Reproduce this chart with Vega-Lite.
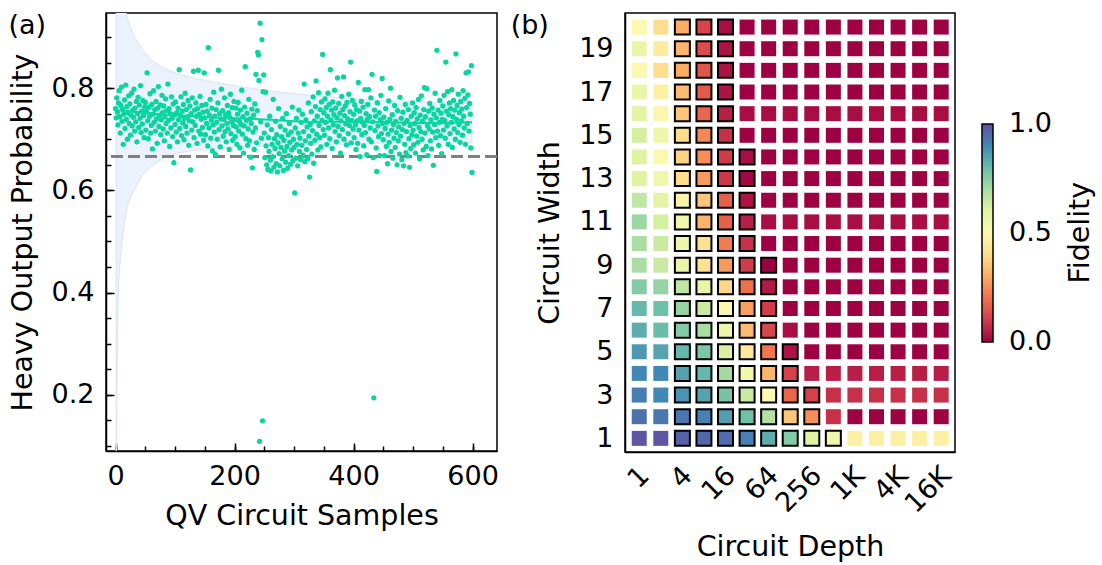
{
"$schema":"https://vega.github.io/schema/vega-lite/v6.json",
"padding":{"left":7,"top":11,"right":5,"bottom":5},
"config":{"font":"DejaVu Sans","view":{"stroke":"black","strokeWidth":1.5},
"axis":{"labelFontSize":27,"titleFontSize":28.5,"titleFontWeight":"normal","labelColor":"black","titleColor":"black","domainColor":"black","domainWidth":1.5,"tickColor":"black","tickWidth":1.5,"grid":false,"labelFlush":false,"labelOverlap":false}},
"datasets":{
"pts":[
{"s":0,"p":0.760},{"s":1,"p":0.742},{"s":2,"p":0.781},{"s":3,"p":0.753},{"s":4,"p":0.728},{"s":5,"p":0.771},{"s":6,"p":0.795},{"s":7,"p":0.744},{"s":8,"p":0.712},{"s":9,"p":0.766},
{"s":10,"p":0.802},{"s":11,"p":0.735},{"s":12,"p":0.758},{"s":13,"p":0.690},{"s":14,"p":0.749},{"s":15,"p":0.777},{"s":16,"p":0.721},{"s":17,"p":0.806},{"s":18,"p":0.739},{"s":19,"p":0.764},
{"s":20,"p":0.700},{"s":21,"p":0.752},{"s":22,"p":0.785},{"s":23,"p":0.731},{"s":24,"p":0.769},{"s":25,"p":0.708},{"s":26,"p":0.747},{"s":27,"p":0.790},{"s":28,"p":0.726},{"s":29,"p":0.757},
{"s":30,"p":0.743},{"s":31,"p":0.798},{"s":32,"p":0.716},{"s":33,"p":0.761},{"s":34,"p":0.734},{"s":35,"p":0.774},{"s":36,"p":0.695},{"s":37,"p":0.750},{"s":38,"p":0.782},{"s":39,"p":0.723},
{"s":40,"p":0.767},{"s":41,"p":0.741},{"s":42,"p":0.805},{"s":43,"p":0.713},{"s":44,"p":0.755},{"s":45,"p":0.730},{"s":46,"p":0.776},{"s":47,"p":0.746},{"s":48,"p":0.703},{"s":49,"p":0.763},
{"s":50,"p":0.772},{"s":51,"p":0.718},{"s":52,"p":0.754},{"s":53,"p":0.830},{"s":54,"p":0.736},{"s":55,"p":0.701},{"s":56,"p":0.763},{"s":57,"p":0.745},{"s":58,"p":0.789},{"s":59,"p":0.712},
{"s":60,"p":0.727},{"s":61,"p":0.768},{"s":62,"p":0.681},{"s":63,"p":0.749},{"s":64,"p":0.795},{"s":65,"p":0.733},{"s":66,"p":0.758},{"s":67,"p":0.716},{"s":68,"p":0.774},{"s":69,"p":0.740},
{"s":70,"p":0.692},{"s":71,"p":0.761},{"s":72,"p":0.803},{"s":73,"p":0.725},{"s":74,"p":0.747},{"s":75,"p":0.767},{"s":76,"p":0.709},{"s":77,"p":0.738},{"s":78,"p":0.786},{"s":79,"p":0.752},
{"s":80,"p":0.720},{"s":81,"p":0.765},{"s":82,"p":0.697},{"s":83,"p":0.744},{"s":84,"p":0.779},{"s":85,"p":0.731},{"s":86,"p":0.756},{"s":87,"p":0.712},{"s":88,"p":0.808},{"s":89,"p":0.737},
{"s":90,"p":0.760},{"s":91,"p":0.686},{"s":92,"p":0.750},{"s":93,"p":0.722},{"s":94,"p":0.783},{"s":95,"p":0.741},{"s":96,"p":0.705},{"s":97,"p":0.769},{"s":98,"p":0.654},{"s":99,"p":0.748},
{"s":100,"p":0.729},{"s":101,"p":0.773},{"s":102,"p":0.714},{"s":103,"p":0.752},{"s":104,"p":0.695},{"s":105,"p":0.761},{"s":106,"p":0.738},{"s":107,"p":0.836},{"s":108,"p":0.721},{"s":109,"p":0.746},
{"s":110,"p":0.783},{"s":111,"p":0.707},{"s":112,"p":0.755},{"s":113,"p":0.732},{"s":114,"p":0.768},{"s":115,"p":0.699},{"s":116,"p":0.741},{"s":117,"p":0.790},{"s":118,"p":0.725},{"s":119,"p":0.758},
{"s":120,"p":0.712},{"s":121,"p":0.744},{"s":122,"p":0.776},{"s":123,"p":0.688},{"s":124,"p":0.736},{"s":125,"p":0.765},{"s":126,"p":0.640},{"s":127,"p":0.750},{"s":128,"p":0.718},{"s":129,"p":0.781},
{"s":130,"p":0.734},{"s":131,"p":0.833},{"s":132,"p":0.703},{"s":133,"p":0.757},{"s":134,"p":0.727},{"s":135,"p":0.771},{"s":136,"p":0.745},{"s":137,"p":0.692},{"s":138,"p":0.760},{"s":139,"p":0.835},
{"s":140,"p":0.716},{"s":141,"p":0.749},{"s":142,"p":0.784},{"s":143,"p":0.710},{"s":144,"p":0.739},{"s":145,"p":0.766},{"s":146,"p":0.723},{"s":147,"p":0.753},{"s":148,"p":0.698},{"s":149,"p":0.830},
{"s":150,"p":0.742},{"s":151,"p":0.709},{"s":152,"p":0.768},{"s":153,"p":0.731},{"s":154,"p":0.755},{"s":155,"p":0.687},{"s":156,"p":0.879},{"s":157,"p":0.722},{"s":158,"p":0.747},{"s":159,"p":0.778},
{"s":160,"p":0.702},{"s":161,"p":0.737},{"s":162,"p":0.761},{"s":163,"p":0.677},{"s":164,"p":0.728},{"s":165,"p":0.792},{"s":166,"p":0.714},{"s":167,"p":0.745},{"s":168,"p":0.670},{"s":169,"p":0.758},
{"s":170,"p":0.733},{"s":171,"p":0.700},{"s":172,"p":0.771},{"s":173,"p":0.835},{"s":174,"p":0.719},{"s":175,"p":0.750},{"s":176,"p":0.685},{"s":177,"p":0.740},{"s":178,"p":0.798},{"s":179,"p":0.726},
{"s":180,"p":0.756},{"s":181,"p":0.706},{"s":182,"p":0.739},{"s":183,"p":0.781},{"s":184,"p":0.715},{"s":185,"p":0.748},{"s":186,"p":0.695},{"s":187,"p":0.731},{"s":188,"p":0.766},{"s":189,"p":0.720},
{"s":190,"p":0.752},{"s":191,"p":0.680},{"s":192,"p":0.743},{"s":193,"p":0.788},{"s":194,"p":0.711},{"s":195,"p":0.734},{"s":196,"p":0.762},{"s":197,"p":0.698},{"s":198,"p":0.727},{"s":199,"p":0.774},
{"s":200,"p":0.738},{"s":201,"p":0.705},{"s":202,"p":0.761},{"s":203,"p":0.724},{"s":204,"p":0.690},{"s":205,"p":0.749},{"s":206,"p":0.772},{"s":207,"p":0.716},{"s":208,"p":0.735},{"s":209,"p":0.683},
{"s":210,"p":0.757},{"s":211,"p":0.729},{"s":212,"p":0.796},{"s":213,"p":0.710},{"s":214,"p":0.744},{"s":215,"p":0.673},{"s":216,"p":0.726},{"s":217,"p":0.763},{"s":218,"p":0.842},{"s":219,"p":0.701},
{"s":220,"p":0.737},{"s":221,"p":0.751},{"s":222,"p":0.688},{"s":223,"p":0.720},{"s":224,"p":0.778},{"s":225,"p":0.697},{"s":226,"p":0.740},{"s":227,"p":0.665},{"s":228,"p":0.731},{"s":229,"p":0.759},
{"s":230,"p":0.644},{"s":231,"p":0.714},{"s":232,"p":0.747},{"s":233,"p":0.680},{"s":234,"p":0.769},{"s":235,"p":0.722},{"s":236,"p":0.827},{"s":237,"p":0.693},{"s":238,"p":0.756},{"s":239,"p":0.870},
{"s":240,"p":0.865},{"s":241,"p":0.815},{"s":242,"p":0.109},{"s":243,"p":0.927},{"s":244,"p":0.734},{"s":245,"p":0.702},{"s":246,"p":0.895},{"s":247,"p":0.149},{"s":248,"p":0.793},{"s":249,"p":0.826},
{"s":250,"p":0.712},{"s":251,"p":0.664},{"s":252,"p":0.792},{"s":253,"p":0.687},{"s":254,"p":0.650},{"s":255,"p":0.728},{"s":256,"p":0.641},{"s":257,"p":0.703},{"s":258,"p":0.676},{"s":259,"p":0.745},
{"s":260,"p":0.659},{"s":261,"p":0.638},{"s":262,"p":0.719},{"s":263,"p":0.690},{"s":264,"p":0.666},{"s":265,"p":0.778},{"s":266,"p":0.645},{"s":267,"p":0.701},{"s":268,"p":0.682},{"s":269,"p":0.735},
{"s":270,"p":0.652},{"s":271,"p":0.709},{"s":272,"p":0.636},{"s":273,"p":0.693},{"s":274,"p":0.760},{"s":275,"p":0.672},{"s":276,"p":0.648},{"s":277,"p":0.725},{"s":278,"p":0.684},{"s":279,"p":0.705},
{"s":280,"p":0.662},{"s":281,"p":0.741},{"s":282,"p":0.639},{"s":283,"p":0.698},{"s":284,"p":0.677},{"s":285,"p":0.718},{"s":286,"p":0.655},{"s":287,"p":0.750},{"s":288,"p":0.686},{"s":289,"p":0.643},
{"s":290,"p":0.709},{"s":291,"p":0.668},{"s":292,"p":0.731},{"s":293,"p":0.694},{"s":294,"p":0.651},{"s":295,"p":0.714},{"s":296,"p":0.679},{"s":297,"p":0.763},{"s":298,"p":0.658},{"s":299,"p":0.700},
{"s":300,"p":0.684},{"s":301,"p":0.595},{"s":302,"p":0.722},{"s":303,"p":0.663},{"s":304,"p":0.741},{"s":305,"p":0.690},{"s":306,"p":0.648},{"s":307,"p":0.712},{"s":308,"p":0.757},{"s":309,"p":0.676},
{"s":310,"p":0.702},{"s":311,"p":0.660},{"s":312,"p":0.733},{"s":313,"p":0.688},{"s":314,"p":0.749},{"s":315,"p":0.669},{"s":316,"p":0.715},{"s":317,"p":0.808},{"s":318,"p":0.656},{"s":319,"p":0.697},
{"s":320,"p":0.738},{"s":321,"p":0.680},{"s":322,"p":0.724},{"s":323,"p":0.662},{"s":324,"p":0.771},{"s":325,"p":0.706},{"s":326,"p":0.626},{"s":327,"p":0.729},{"s":328,"p":0.692},{"s":329,"p":0.754},
{"s":330,"p":0.671},{"s":331,"p":0.717},{"s":332,"p":0.783},{"s":333,"p":0.653},{"s":334,"p":0.736},{"s":335,"p":0.698},{"s":336,"p":0.764},{"s":337,"p":0.814},{"s":338,"p":0.710},{"s":339,"p":0.745},
{"s":340,"p":0.679},{"s":341,"p":0.791},{"s":342,"p":0.727},{"s":343,"p":0.703},{"s":344,"p":0.758},{"s":345,"p":0.685},{"s":346,"p":0.773},{"s":347,"p":0.737},{"s":348,"p":0.866},{"s":349,"p":0.719},
{"s":350,"p":0.752},{"s":351,"p":0.708},{"s":352,"p":0.779},{"s":353,"p":0.733},{"s":354,"p":0.762},{"s":355,"p":0.690},{"s":356,"p":0.745},{"s":357,"p":0.790},{"s":358,"p":0.722},{"s":359,"p":0.768},
{"s":360,"p":0.701},{"s":361,"p":0.836},{"s":362,"p":0.738},{"s":363,"p":0.757},{"s":364,"p":0.682},{"s":365,"p":0.773},{"s":366,"p":0.728},{"s":367,"p":0.748},{"s":368,"p":0.796},{"s":369,"p":0.715},
{"s":370,"p":0.761},{"s":371,"p":0.695},{"s":372,"p":0.742},{"s":373,"p":0.820},{"s":374,"p":0.725},{"s":375,"p":0.770},{"s":376,"p":0.707},{"s":377,"p":0.751},{"s":378,"p":0.673},{"s":379,"p":0.736},
{"s":380,"p":0.784},{"s":381,"p":0.719},{"s":382,"p":0.758},{"s":383,"p":0.822},{"s":384,"p":0.700},{"s":385,"p":0.746},{"s":386,"p":0.765},{"s":387,"p":0.730},{"s":388,"p":0.689},{"s":389,"p":0.772},
{"s":390,"p":0.740},{"s":391,"p":0.711},{"s":392,"p":0.788},{"s":393,"p":0.727},{"s":394,"p":0.754},{"s":395,"p":0.851},{"s":396,"p":0.693},{"s":397,"p":0.737},{"s":398,"p":0.776},{"s":399,"p":0.720},
{"s":400,"p":0.749},{"s":401,"p":0.703},{"s":402,"p":0.767},{"s":403,"p":0.728},{"s":404,"p":0.680},{"s":405,"p":0.758},{"s":406,"p":0.736},{"s":407,"p":0.692},{"s":408,"p":0.811},{"s":409,"p":0.718},
{"s":410,"p":0.755},{"s":411,"p":0.666},{"s":412,"p":0.741},{"s":413,"p":0.774},{"s":414,"p":0.709},{"s":415,"p":0.733},{"s":416,"p":0.763},{"s":417,"p":0.687},{"s":418,"p":0.727},{"s":419,"p":0.797},
{"s":420,"p":0.713},{"s":421,"p":0.750},{"s":422,"p":0.670},{"s":423,"p":0.739},{"s":424,"p":0.768},{"s":425,"p":0.797},{"s":426,"p":0.700},{"s":427,"p":0.744},{"s":428,"p":0.722},{"s":429,"p":0.781},
{"s":430,"p":0.695},{"s":431,"p":0.827},{"s":432,"p":0.734},{"s":433,"p":0.664},{"s":434,"p":0.194},{"s":435,"p":0.757},{"s":436,"p":0.717},{"s":437,"p":0.745},{"s":438,"p":0.683},{"s":439,"p":0.637},
{"s":440,"p":0.771},{"s":441,"p":0.726},{"s":442,"p":0.705},{"s":443,"p":0.752},{"s":444,"p":0.668},{"s":445,"p":0.738},{"s":446,"p":0.786},{"s":447,"p":0.711},{"s":448,"p":0.819},{"s":449,"p":0.731},
{"s":450,"p":0.699},{"s":451,"p":0.743},{"s":452,"p":0.668},{"s":453,"p":0.721},{"s":454,"p":0.760},{"s":455,"p":0.686},{"s":456,"p":0.733},{"s":457,"p":0.652},{"s":458,"p":0.710},{"s":459,"p":0.775},
{"s":460,"p":0.694},{"s":461,"p":0.739},{"s":462,"p":0.800},{"s":463,"p":0.676},{"s":464,"p":0.718},{"s":465,"p":0.748},{"s":466,"p":0.663},{"s":467,"p":0.729},{"s":468,"p":0.702},{"s":469,"p":0.766},
{"s":470,"p":0.684},{"s":471,"p":0.735},{"s":472,"p":0.713},{"s":473,"p":0.650},{"s":474,"p":0.756},{"s":475,"p":0.697},{"s":476,"p":0.724},{"s":477,"p":0.671},{"s":478,"p":0.782},{"s":479,"p":0.706},
{"s":480,"p":0.741},{"s":481,"p":0.660},{"s":482,"p":0.719},{"s":483,"p":0.753},{"s":484,"p":0.648},{"s":485,"p":0.731},{"s":486,"p":0.690},{"s":487,"p":0.768},{"s":488,"p":0.674},{"s":489,"p":0.715},
{"s":490,"p":0.737},{"s":491,"p":0.667},{"s":492,"p":0.758},{"s":493,"p":0.701},{"s":494,"p":0.645},{"s":495,"p":0.727},{"s":496,"p":0.682},{"s":497,"p":0.745},{"s":498,"p":0.709},{"s":499,"p":0.771},
{"s":500,"p":0.718},{"s":501,"p":0.689},{"s":502,"p":0.752},{"s":503,"p":0.731},{"s":504,"p":0.673},{"s":505,"p":0.762},{"s":506,"p":0.706},{"s":507,"p":0.740},{"s":508,"p":0.694},{"s":509,"p":0.778},
{"s":510,"p":0.723},{"s":511,"p":0.662},{"s":512,"p":0.747},{"s":513,"p":0.715},{"s":514,"p":0.785},{"s":515,"p":0.700},{"s":516,"p":0.736},{"s":517,"p":0.679},{"s":518,"p":0.758},{"s":519,"p":0.801},
{"s":520,"p":0.712},{"s":521,"p":0.744},{"s":522,"p":0.686},{"s":523,"p":0.799},{"s":524,"p":0.727},{"s":525,"p":0.668},{"s":526,"p":0.755},{"s":527,"p":0.720},{"s":528,"p":0.770},{"s":529,"p":0.697},
{"s":530,"p":0.738},{"s":531,"p":0.681},{"s":532,"p":0.761},{"s":533,"p":0.714},{"s":534,"p":0.649},{"s":535,"p":0.749},{"s":536,"p":0.729},{"s":537,"p":0.790},{"s":538,"p":0.703},{"s":539,"p":0.742},
{"s":540,"p":0.874},{"s":541,"p":0.716},{"s":542,"p":0.757},{"s":543,"p":0.688},{"s":544,"p":0.733},{"s":545,"p":0.776},{"s":546,"p":0.707},{"s":547,"p":0.751},{"s":548,"p":0.672},{"s":549,"p":0.739},
{"s":550,"p":0.765},{"s":551,"p":0.718},{"s":552,"p":0.786},{"s":553,"p":0.737},{"s":554,"p":0.702},{"s":555,"p":0.851},{"s":556,"p":0.755},{"s":557,"p":0.726},{"s":558,"p":0.793},{"s":559,"p":0.690},
{"s":560,"p":0.748},{"s":561,"p":0.771},{"s":562,"p":0.711},{"s":563,"p":0.760},{"s":564,"p":0.733},{"s":565,"p":0.797},{"s":566,"p":0.684},{"s":567,"p":0.744},{"s":568,"p":0.776},{"s":569,"p":0.720},
{"s":570,"p":0.757},{"s":571,"p":0.700},{"s":572,"p":0.867},{"s":573,"p":0.739},{"s":574,"p":0.766},{"s":575,"p":0.713},{"s":576,"p":0.788},{"s":577,"p":0.729},{"s":578,"p":0.752},{"s":579,"p":0.694},
{"s":580,"p":0.774},{"s":581,"p":0.736},{"s":582,"p":0.759},{"s":583,"p":0.708},{"s":584,"p":0.795},{"s":585,"p":0.745},{"s":586,"p":0.722},{"s":587,"p":0.780},{"s":588,"p":0.690},{"s":589,"p":0.830},
{"s":590,"p":0.762},{"s":591,"p":0.731},{"s":592,"p":0.787},{"s":593,"p":0.832},{"s":594,"p":0.716},{"s":595,"p":0.770},{"s":596,"p":0.749},{"s":597,"p":0.683},{"s":598,"p":0.844},{"s":599,"p":0.635}
],
"band":[
{"s":1,"lo":-0.05,"hi":1.55},{"s":2,"lo":0.15,"hi":1.33},{"s":3,"lo":0.28,"hi":1.22},{"s":5,"lo":0.42,"hi":1.08},{"s":8,"lo":0.465,"hi":1.04},{"s":13,"lo":0.52,"hi":0.98},{"s":20,"lo":0.57,"hi":0.935},{"s":30,"lo":0.598,"hi":0.905},{"s":45,"lo":0.63,"hi":0.875},{"s":60,"lo":0.647,"hi":0.855},{"s":80,"lo":0.662,"hi":0.84},{"s":100,"lo":0.672,"hi":0.83},{"s":130,"lo":0.678,"hi":0.82},{"s":165,"lo":0.682,"hi":0.812},{"s":200,"lo":0.684,"hi":0.805},{"s":250,"lo":0.686,"hi":0.796},{"s":300,"lo":0.688,"hi":0.789},{"s":370,"lo":0.69,"hi":0.782},{"s":450,"lo":0.692,"hi":0.776},{"s":520,"lo":0.693,"hi":0.773},{"s":599,"lo":0.694,"hi":0.77}
],
"trend":[
{"s":0,"m":0.758},{"s":5,"m":0.756},{"s":10,"m":0.757},{"s":20,"m":0.755},{"s":30,"m":0.754},{"s":50,"m":0.752},{"s":75,"m":0.749},{"s":100,"m":0.747},{"s":130,"m":0.745},{"s":160,"m":0.743},{"s":200,"m":0.741},{"s":230,"m":0.740},{"s":260,"m":0.738},{"s":300,"m":0.735},{"s":330,"m":0.733},{"s":360,"m":0.734},{"s":400,"m":0.734},{"s":450,"m":0.733},{"s":500,"m":0.732},{"s":550,"m":0.732},{"s":599,"m":0.733}
],
"heat":[
{"w":20,"i":0,"f":0.50},{"w":20,"i":1,"f":0.40},{"w":20,"i":2,"f":0.30,"o":1},{"w":20,"i":3,"f":0.12,"o":1},{"w":20,"i":4,"f":0.02,"o":1},{"w":20,"i":5,"f":0},{"w":20,"i":6,"f":0},{"w":20,"i":7,"f":0},{"w":20,"i":8,"f":0},{"w":20,"i":9,"f":0},{"w":20,"i":10,"f":0},{"w":20,"i":11,"f":0},{"w":20,"i":12,"f":0},{"w":20,"i":13,"f":0},{"w":20,"i":14,"f":0},
{"w":19,"i":0,"f":0.56},{"w":19,"i":1,"f":0.45},{"w":19,"i":2,"f":0.32,"o":1},{"w":19,"i":3,"f":0.13,"o":1},{"w":19,"i":4,"f":0.03,"o":1},{"w":19,"i":5,"f":0},{"w":19,"i":6,"f":0},{"w":19,"i":7,"f":0},{"w":19,"i":8,"f":0},{"w":19,"i":9,"f":0},{"w":19,"i":10,"f":0},{"w":19,"i":11,"f":0},{"w":19,"i":12,"f":0},{"w":19,"i":13,"f":0},{"w":19,"i":14,"f":0},
{"w":18,"i":0,"f":0.50},{"w":18,"i":1,"f":0.40},{"w":18,"i":2,"f":0.30,"o":1},{"w":18,"i":3,"f":0.15,"o":1},{"w":18,"i":4,"f":0.03,"o":1},{"w":18,"i":5,"f":0},{"w":18,"i":6,"f":0},{"w":18,"i":7,"f":0},{"w":18,"i":8,"f":0},{"w":18,"i":9,"f":0},{"w":18,"i":10,"f":0},{"w":18,"i":11,"f":0},{"w":18,"i":12,"f":0},{"w":18,"i":13,"f":0},{"w":18,"i":14,"f":0},
{"w":17,"i":0,"f":0.56},{"w":17,"i":1,"f":0.47},{"w":17,"i":2,"f":0.33,"o":1},{"w":17,"i":3,"f":0.16,"o":1},{"w":17,"i":4,"f":0.03,"o":1},{"w":17,"i":5,"f":0},{"w":17,"i":6,"f":0},{"w":17,"i":7,"f":0},{"w":17,"i":8,"f":0},{"w":17,"i":9,"f":0},{"w":17,"i":10,"f":0},{"w":17,"i":11,"f":0},{"w":17,"i":12,"f":0},{"w":17,"i":13,"f":0},{"w":17,"i":14,"f":0},
{"w":16,"i":0,"f":0.58},{"w":16,"i":1,"f":0.49},{"w":16,"i":2,"f":0.35,"o":1},{"w":16,"i":3,"f":0.18,"o":1},{"w":16,"i":4,"f":0.05,"o":1},{"w":16,"i":5,"f":0.02},{"w":16,"i":6,"f":0.02},{"w":16,"i":7,"f":0.02},{"w":16,"i":8,"f":0.02},{"w":16,"i":9,"f":0.02},{"w":16,"i":10,"f":0.02},{"w":16,"i":11,"f":0.02},{"w":16,"i":12,"f":0.02},{"w":16,"i":13,"f":0.02},{"w":16,"i":14,"f":0.02},
{"w":15,"i":0,"f":0.62},{"w":15,"i":1,"f":0.55},{"w":15,"i":2,"f":0.40,"o":1},{"w":15,"i":3,"f":0.24,"o":1},{"w":15,"i":4,"f":0.08,"o":1},{"w":15,"i":5,"f":0},{"w":15,"i":6,"f":0},{"w":15,"i":7,"f":0},{"w":15,"i":8,"f":0},{"w":15,"i":9,"f":0},{"w":15,"i":10,"f":0},{"w":15,"i":11,"f":0},{"w":15,"i":12,"f":0},{"w":15,"i":13,"f":0},{"w":15,"i":14,"f":0},
{"w":14,"i":0,"f":0.60},{"w":14,"i":1,"f":0.50},{"w":14,"i":2,"f":0.38,"o":1},{"w":14,"i":3,"f":0.25,"o":1},{"w":14,"i":4,"f":0.10,"o":1},{"w":14,"i":5,"f":0.02,"o":1},{"w":14,"i":6,"f":0},{"w":14,"i":7,"f":0},{"w":14,"i":8,"f":0},{"w":14,"i":9,"f":0},{"w":14,"i":10,"f":0},{"w":14,"i":11,"f":0},{"w":14,"i":12,"f":0},{"w":14,"i":13,"f":0},{"w":14,"i":14,"f":0},
{"w":13,"i":0,"f":0.60},{"w":13,"i":1,"f":0.54},{"w":13,"i":2,"f":0.40,"o":1},{"w":13,"i":3,"f":0.27,"o":1},{"w":13,"i":4,"f":0.09,"o":1},{"w":13,"i":5,"f":0.01,"o":1},{"w":13,"i":6,"f":0},{"w":13,"i":7,"f":0},{"w":13,"i":8,"f":0},{"w":13,"i":9,"f":0},{"w":13,"i":10,"f":0},{"w":13,"i":11,"f":0},{"w":13,"i":12,"f":0},{"w":13,"i":13,"f":0},{"w":13,"i":14,"f":0},
{"w":12,"i":0,"f":0.66},{"w":12,"i":1,"f":0.58},{"w":12,"i":2,"f":0.48,"o":1},{"w":12,"i":3,"f":0.35,"o":1},{"w":12,"i":4,"f":0.17,"o":1},{"w":12,"i":5,"f":0.03,"o":1},{"w":12,"i":6,"f":0},{"w":12,"i":7,"f":0},{"w":12,"i":8,"f":0},{"w":12,"i":9,"f":0},{"w":12,"i":10,"f":0},{"w":12,"i":11,"f":0},{"w":12,"i":12,"f":0},{"w":12,"i":13,"f":0},{"w":12,"i":14,"f":0},
{"w":11,"i":0,"f":0.72},{"w":11,"i":1,"f":0.62},{"w":11,"i":2,"f":0.54,"o":1},{"w":11,"i":3,"f":0.32,"o":1},{"w":11,"i":4,"f":0.17,"o":1},{"w":11,"i":5,"f":0.05,"o":1},{"w":11,"i":6,"f":0.02},{"w":11,"i":7,"f":0.02},{"w":11,"i":8,"f":0.02},{"w":11,"i":9,"f":0.02},{"w":11,"i":10,"f":0.02},{"w":11,"i":11,"f":0.02},{"w":11,"i":12,"f":0.02},{"w":11,"i":13,"f":0.02},{"w":11,"i":14,"f":0.02},
{"w":10,"i":0,"f":0.70},{"w":10,"i":1,"f":0.64},{"w":10,"i":2,"f":0.55,"o":1},{"w":10,"i":3,"f":0.41,"o":1},{"w":10,"i":4,"f":0.22,"o":1},{"w":10,"i":5,"f":0.08,"o":1},{"w":10,"i":6,"f":0},{"w":10,"i":7,"f":0},{"w":10,"i":8,"f":0},{"w":10,"i":9,"f":0},{"w":10,"i":10,"f":0},{"w":10,"i":11,"f":0},{"w":10,"i":12,"f":0},{"w":10,"i":13,"f":0},{"w":10,"i":14,"f":0},
{"w":9,"i":0,"f":0.70},{"w":9,"i":1,"f":0.64},{"w":9,"i":2,"f":0.56,"o":1},{"w":9,"i":3,"f":0.42,"o":1},{"w":9,"i":4,"f":0.27,"o":1},{"w":9,"i":5,"f":0.10,"o":1},{"w":9,"i":6,"f":0,"o":1},{"w":9,"i":7,"f":0},{"w":9,"i":8,"f":0},{"w":9,"i":9,"f":0},{"w":9,"i":10,"f":0},{"w":9,"i":11,"f":0},{"w":9,"i":12,"f":0},{"w":9,"i":13,"f":0},{"w":9,"i":14,"f":0},
{"w":8,"i":0,"f":0.76},{"w":8,"i":1,"f":0.73},{"w":8,"i":2,"f":0.66,"o":1},{"w":8,"i":3,"f":0.56,"o":1},{"w":8,"i":4,"f":0.39,"o":1},{"w":8,"i":5,"f":0.20,"o":1},{"w":8,"i":6,"f":0.04,"o":1},{"w":8,"i":7,"f":0},{"w":8,"i":8,"f":0},{"w":8,"i":9,"f":0},{"w":8,"i":10,"f":0},{"w":8,"i":11,"f":0},{"w":8,"i":12,"f":0},{"w":8,"i":13,"f":0},{"w":8,"i":14,"f":0},
{"w":7,"i":0,"f":0.81},{"w":7,"i":1,"f":0.79},{"w":7,"i":2,"f":0.73,"o":1},{"w":7,"i":3,"f":0.64,"o":1},{"w":7,"i":4,"f":0.49,"o":1},{"w":7,"i":5,"f":0.28,"o":1},{"w":7,"i":6,"f":0.10,"o":1},{"w":7,"i":7,"f":0},{"w":7,"i":8,"f":0},{"w":7,"i":9,"f":0},{"w":7,"i":10,"f":0},{"w":7,"i":11,"f":0},{"w":7,"i":12,"f":0},{"w":7,"i":13,"f":0},{"w":7,"i":14,"f":0},
{"w":6,"i":0,"f":0.83},{"w":6,"i":1,"f":0.80},{"w":6,"i":2,"f":0.76,"o":1},{"w":6,"i":3,"f":0.70,"o":1},{"w":6,"i":4,"f":0.55,"o":1},{"w":6,"i":5,"f":0.33,"o":1},{"w":6,"i":6,"f":0.12,"o":1},{"w":6,"i":7,"f":0.02},{"w":6,"i":8,"f":0},{"w":6,"i":9,"f":0},{"w":6,"i":10,"f":0},{"w":6,"i":11,"f":0},{"w":6,"i":12,"f":0},{"w":6,"i":13,"f":0},{"w":6,"i":14,"f":0},
{"w":5,"i":0,"f":0.87},{"w":5,"i":1,"f":0.85},{"w":5,"i":2,"f":0.81,"o":1},{"w":5,"i":3,"f":0.77,"o":1},{"w":5,"i":4,"f":0.61,"o":1},{"w":5,"i":5,"f":0.44,"o":1},{"w":5,"i":6,"f":0.21,"o":1},{"w":5,"i":7,"f":0.03,"o":1},{"w":5,"i":8,"f":0},{"w":5,"i":9,"f":0},{"w":5,"i":10,"f":0},{"w":5,"i":11,"f":0},{"w":5,"i":12,"f":0},{"w":5,"i":13,"f":0},{"w":5,"i":14,"f":0},
{"w":4,"i":0,"f":0.90},{"w":4,"i":1,"f":0.90},{"w":4,"i":2,"f":0.85,"o":1},{"w":4,"i":3,"f":0.81,"o":1},{"w":4,"i":4,"f":0.71,"o":1},{"w":4,"i":5,"f":0.53,"o":1},{"w":4,"i":6,"f":0.32,"o":1},{"w":4,"i":7,"f":0.11,"o":1},{"w":4,"i":8,"f":0.05},{"w":4,"i":9,"f":0.05},{"w":4,"i":10,"f":0.05},{"w":4,"i":11,"f":0.05},{"w":4,"i":12,"f":0.05},{"w":4,"i":13,"f":0.05},{"w":4,"i":14,"f":0.05},
{"w":3,"i":0,"f":0.92},{"w":3,"i":1,"f":0.90},{"w":3,"i":2,"f":0.88,"o":1},{"w":3,"i":3,"f":0.85,"o":1},{"w":3,"i":4,"f":0.78,"o":1},{"w":3,"i":5,"f":0.64,"o":1},{"w":3,"i":6,"f":0.50,"o":1},{"w":3,"i":7,"f":0.18,"o":1},{"w":3,"i":8,"f":0.11,"o":1},{"w":3,"i":9,"f":0.08},{"w":3,"i":10,"f":0.08},{"w":3,"i":11,"f":0.08},{"w":3,"i":12,"f":0.08},{"w":3,"i":13,"f":0.08},{"w":3,"i":14,"f":0.08},
{"w":2,"i":0,"f":0.94},{"w":2,"i":1,"f":0.93},{"w":2,"i":2,"f":0.93,"o":1},{"w":2,"i":3,"f":0.91,"o":1},{"w":2,"i":4,"f":0.86,"o":1},{"w":2,"i":5,"f":0.79,"o":1},{"w":2,"i":6,"f":0.68,"o":1},{"w":2,"i":7,"f":0.35,"o":1},{"w":2,"i":8,"f":0.25,"o":1},{"w":2,"i":9,"f":0.08},{"w":2,"i":10,"f":0},{"w":2,"i":11,"f":0},{"w":2,"i":12,"f":0},{"w":2,"i":13,"f":0},{"w":2,"i":14,"f":0},
{"w":1,"i":0,"f":0.99},{"w":1,"i":1,"f":0.99},{"w":1,"i":2,"f":0.97,"o":1},{"w":1,"i":3,"f":0.96,"o":1},{"w":1,"i":4,"f":0.95,"o":1},{"w":1,"i":5,"f":0.91,"o":1},{"w":1,"i":6,"f":0.83,"o":1},{"w":1,"i":7,"f":0.76,"o":1},{"w":1,"i":8,"f":0.60,"o":1},{"w":1,"i":9,"f":0.54,"o":1},{"w":1,"i":10,"f":0.47},{"w":1,"i":11,"f":0.47},{"w":1,"i":12,"f":0.47},{"w":1,"i":13,"f":0.47},{"w":1,"i":14,"f":0.47}
]
},
"hconcat":[
{
"width":391,"height":438,
"resolve":{"axis":{"x":"independent","y":"independent"}},
"layer":[
{"data":{"name":"band"},"mark":{"type":"area","clip":true,"color":"#ecf2fc","stroke":"#dae4f6","strokeWidth":1},
"encoding":{
"x":{"field":"s","type":"quantitative","scale":{"domain":[-16,641],"nice":false,"zero":false},"axis":{"orient":"bottom","values":[0,200,400,600],"tickSize":-8,"labelPadding":20,"title":"QV Circuit Samples","titlePadding":12}},
"y":{"field":"lo","type":"quantitative","scale":{"domain":[0.09,0.947],"nice":false,"zero":false},"axis":{"orient":"left","values":[0.2,0.4,0.6,0.8],"format":".1f","tickSize":-8,"labelPadding":20,"title":"Heavy Output Probability","titlePadding":14}},
"y2":{"field":"hi"}}},
{"data":{"name":"band"},"mark":{"type":"rule","color":"#808080","strokeWidth":2.2,"strokeDash":[12,5]},
"encoding":{"y":{"datum":0.6667,"type":"quantitative","axis":null}}},
{"data":{"name":"pts"},"mark":{"type":"circle","size":28,"opacity":1,"color":"#06d6a0"},
"encoding":{
"x":{"field":"s","type":"quantitative","axis":{"orient":"bottom","values":[0,50,100,150,200,250,300,350,400,450,500,550,600],"tickSize":-5,"labels":false,"domain":false,"title":null}},
"y":{"field":"p","type":"quantitative","axis":{"orient":"left","values":[0.1,0.15,0.2,0.25,0.3,0.35,0.4,0.45,0.5,0.55,0.6,0.65,0.7,0.75,0.8,0.85,0.9],"tickSize":-5,"labels":false,"domain":false,"title":null}}}},
{"data":{"name":"trend"},"mark":{"type":"line","color":"#06d6a0","strokeWidth":2},
"encoding":{"x":{"field":"s","type":"quantitative","axis":null},"y":{"field":"m","type":"quantitative","axis":null}}},
{"data":{"values":[{}]},"mark":{"type":"text","align":"left","baseline":"alphabetic","fontSize":27,"color":"black"},
"encoding":{"x":{"datum":-180,"type":"quantitative","axis":null},"y":{"datum":0.906,"type":"quantitative","axis":null},"text":{"value":"(a)"}}}
]
},
{
"width":330,"height":439,
"layer":[
{"data":{"name":"heat"},
"mark":{"type":"square","size":225,"opacity":1,"stroke":"black","filled":true},
"encoding":{
"x":{"field":"i","type":"quantitative","scale":{"domain":[-0.66,14.64],"nice":false,"zero":false},
"axis":{"values":[0,2,4,6,8,10,12,14],"labelExpr":"['1','2','4','8','16','32','64','128','256','512','1K','2K','4K','8K','16K'][datum.value]","labelAngle":-45,"labelAlign":"right","labelBaseline":"top","ticks":false,"tickSize":0,"labelPadding":10,"labelOffset":-4,"title":"Circuit Depth","titlePadding":15}},
"y":{"field":"w","type":"quantitative","scale":{"domain":[0.37,20.65],"nice":false,"zero":false},
"axis":{"values":[1,3,5,7,9,11,13,15,17,19],"ticks":false,"tickSize":0,"labelPadding":12,"title":"Circuit Width","titlePadding":14}},
"color":{"field":"f","type":"quantitative","scale":{"scheme":"spectral","domain":[0,1]},
"legend":{"orient":"none","legendX":876,"legendY":111,"direction":"vertical","gradientLength":218,"gradientThickness":11,"gradientStrokeColor":"black","gradientStrokeWidth":1.5,"values":[0.0001,0.5,0.9999],"format":".1f","labelFontSize":27,"labelOffset":16,"labelColor":"black","title":null}},
"strokeWidth":{"condition":{"test":"datum.o==1","value":2},"value":0}
}},
{"data":{"values":[{}]},"mark":{"type":"text","align":"left","baseline":"alphabetic","fontSize":27,"color":"black"},
"encoding":{"x":{"datum":-5.96},"y":{"datum":19.68},"text":{"value":"(b)"}}},
{"data":{"values":[{}]},"mark":{"type":"text","align":"center","baseline":"middle","angle":270,"fontSize":28.5,"color":"black"},
"encoding":{"x":{"datum":20.42},"y":{"datum":10.5},"text":{"value":"Fidelity"}}}
]
}
],
"spacing":128,
"bounds":"flush"
}
